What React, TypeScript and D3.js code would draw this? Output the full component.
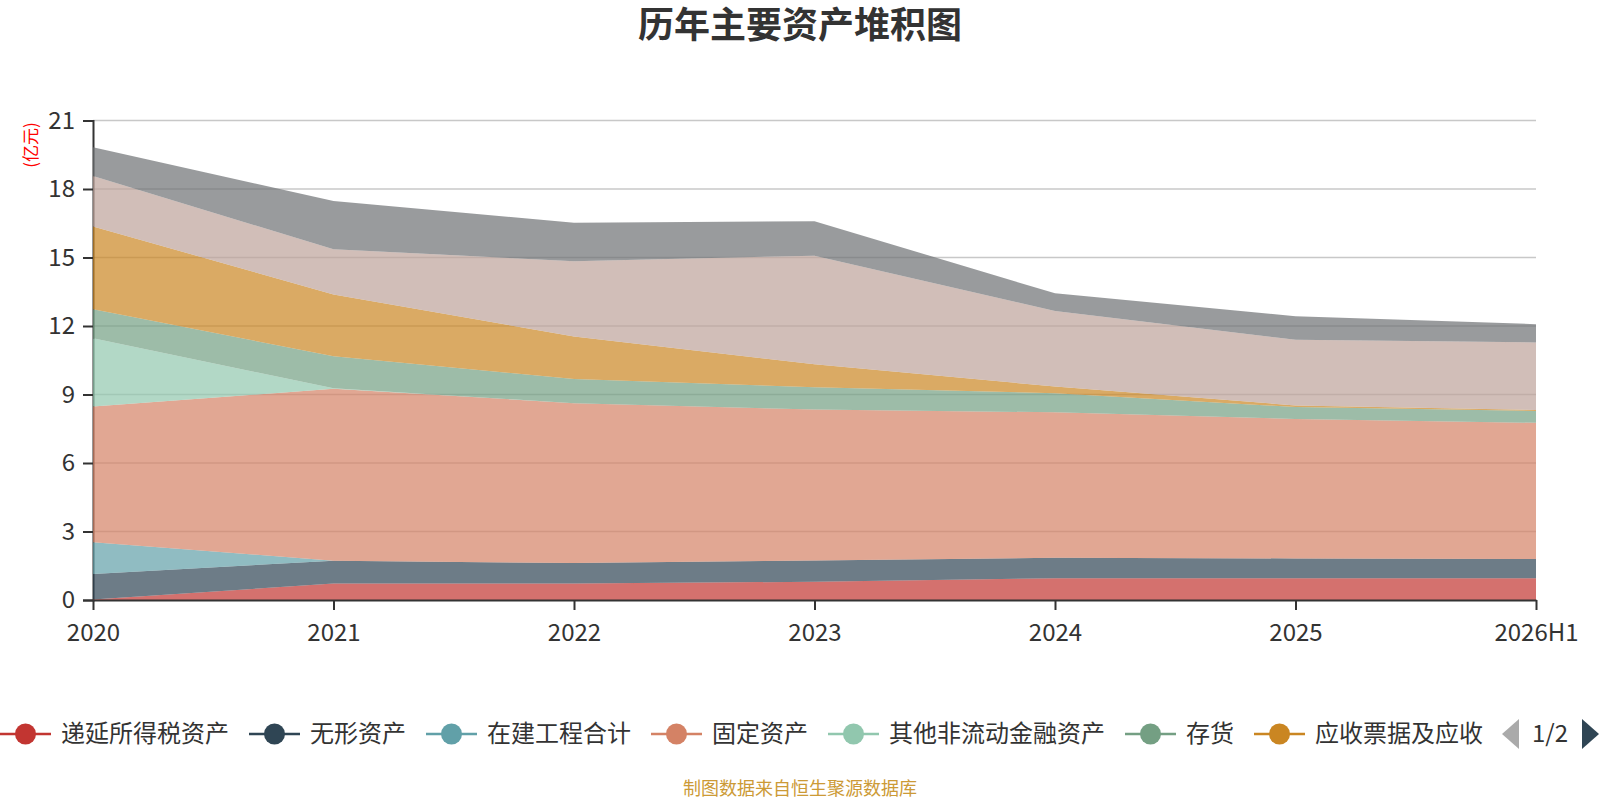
import React, { useEffect, useRef } from "react";
import * as d3 from "d3";

// x-axis categories
const years = ["2020", "2021", "2022", "2023", "2024", "2025", "2026H1"];

// series values (亿元), bottom to top of the stack
const deferredTax = [0.02, 0.72, 0.72, 0.8, 0.95, 0.95, 0.95];
const intangible = [1.12, 1.0, 0.9, 0.93, 0.9, 0.87, 0.85];
const construction = [1.39, 0, 0, 0, 0, 0, 0];
const fixedAssets = [5.94, 7.53, 7.0, 6.61, 6.37, 6.11, 5.96];
const otherFinancial = [2.99, 0.02, 0, 0, 0, 0, 0];
const inventory = [1.27, 1.41, 1.06, 0.98, 0.84, 0.52, 0.52];
const receivables = [3.63, 2.7, 1.86, 1.0, 0.29, 0.07, 0.04];
const cash = [2.21, 1.98, 3.3, 4.76, 3.31, 2.88, 2.96];
const others = [1.26, 2.11, 1.68, 1.51, 0.77, 1.03, 0.8];

const seriesNames = [
  "递延所得税资产",
  "无形资产",
  "在建工程合计",
  "固定资产",
  "其他非流动金融资产",
  "存货",
  "应收票据及应收",
  "货币资金",
  "其他资产",
];
const seriesValues = [
  deferredTax,
  intangible,
  construction,
  fixedAssets,
  otherFinancial,
  inventory,
  receivables,
  cash,
  others,
];
const colors = [
  "#c23531",
  "#2f4554",
  "#61a0a8",
  "#d48265",
  "#91c7ae",
  "#749f83",
  "#ca8622",
  "#bda29a",
  "#6e7074",
];

const yTicks = [0, 3, 6, 9, 12, 15, 18, 21];
const legendCount = 7; // first page of the legend

const FONT = "'Noto Sans CJK SC', 'Noto Sans', sans-serif";

const Chart = ({ width = 1600, height = 800 }) => {
  const svgRef = useRef(null);

  useEffect(() => {
    const svg = d3.select(svgRef.current);
    svg.selectAll("*").remove();

    const margin = { top: 120.5, right: 64, bottom: 200, left: 93 };
    const innerW = width - margin.left - margin.right;
    const innerH = height - margin.top - margin.bottom;

    const x = d3.scalePoint().domain(years).range([0, innerW]);
    const y = d3.scaleLinear().domain([0, 21]).range([innerH, 0]);

    // rows for d3.stack
    const rows = years.map((yr, i) => {
      const r: any = { year: yr };
      seriesNames.forEach((n, k) => (r[n] = seriesValues[k][i]));
      return r;
    });
    const stacked = d3.stack().keys(seriesNames)(rows);

    // title
    svg
      .append("text")
      .attr("x", 800)
      .attr("y", 38)
      .attr("text-anchor", "middle")
      .style("font-family", FONT)
      .style("font-size", "36px")
      .style("font-weight", "bold")
      .style("fill", "#333")
      .text("历年主要资产堆积图");

    // unit label
    svg
      .append("text")
      .attr("transform", "translate(31,145) rotate(-90)")
      .attr("text-anchor", "middle")
      .attr("dy", "0.35em")
      .style("font-family", FONT)
      .style("font-size", "17px")
      .style("fill", "#ff0000")
      .text("(亿元)");

    const g = svg
      .append("g")
      .attr("transform", `translate(${margin.left}, ${margin.top})`);

    // grid lines
    g.append("g")
      .selectAll("line")
      .data(yTicks.filter((t) => t > 0))
      .join("line")
      .attr("x1", 0)
      .attr("x2", innerW)
      .attr("y1", (d) => y(d))
      .attr("y2", (d) => y(d))
      .attr("stroke", "#c8c8c8")
      .attr("stroke-width", 1.5);

    // y axis (drawn below the areas, as in the original)
    const yAxis = g
      .append("g")
      .call(d3.axisLeft(y).tickValues(yTicks).tickSize(10).tickPadding(8));
    yAxis.select(".domain").attr("stroke", "#333").attr("stroke-width", 2);
    yAxis.selectAll(".tick line").attr("stroke", "#333").attr("stroke-width", 2);
    yAxis
      .selectAll(".tick text")
      .style("font-family", FONT)
      .style("font-size", "24px")
      .style("fill", "#333");

    // stacked areas
    const area = d3
      .area<any>()
      .x((d) => x(d.data.year))
      .y0((d) => y(d[0]))
      .y1((d) => y(d[1]));

    g.append("g")
      .selectAll("path")
      .data(stacked)
      .join("path")
      .attr("d", area)
      .attr("fill", (d, i) => colors[i])
      .attr("fill-opacity", 0.7);

    // x axis
    const xAxis = g
      .append("g")
      .attr("transform", `translate(0, ${innerH})`)
      .call(d3.axisBottom(x).tickSize(10).tickPadding(6).tickSizeOuter(0));
    xAxis.select(".domain").attr("stroke", "#333").attr("stroke-width", 2);
    xAxis.selectAll(".tick line").attr("stroke", "#333").attr("stroke-width", 2);
    xAxis
      .selectAll(".tick text")
      .attr("dy", "1.05em")
      .style("font-family", FONT)
      .style("font-size", "24px")
      .style("fill", "#333");

    // legend (first page)
    const legend = svg.append("g").attr("transform", "translate(0, 734)");
    let lx = 0;
    for (let i = 0; i < legendCount; i++) {
      const item = legend.append("g").attr("transform", `translate(${lx}, 0)`);
      item
        .append("line")
        .attr("x1", 0)
        .attr("x2", 51)
        .attr("stroke", colors[i])
        .attr("stroke-width", 2.5);
      item
        .append("circle")
        .attr("cx", 25.5)
        .attr("r", 10.5)
        .attr("fill", colors[i]);
      item
        .append("text")
        .attr("x", 61)
        .attr("dy", "0.35em")
        .style("font-family", FONT)
        .style("font-size", "24px")
        .style("fill", "#333")
        .text(seriesNames[i]);
      lx += 61 + seriesNames[i].length * 24 + 20;
    }

    // legend pager
    legend
      .append("path")
      .attr("d", "M1519,-15 L1502,0 L1519,15 Z")
      .attr("fill", "#aaa");
    legend
      .append("text")
      .attr("x", 1550)
      .attr("dy", "0.35em")
      .attr("text-anchor", "middle")
      .style("font-family", FONT)
      .style("font-size", "24px")
      .style("fill", "#333")
      .text("1/2");
    legend
      .append("path")
      .attr("d", "M1582,-15 L1599,0 L1582,15 Z")
      .attr("fill", "#2f4554");

    // source note
    svg
      .append("text")
      .attr("x", 800)
      .attr("y", 789)
      .attr("dy", "0.35em")
      .attr("text-anchor", "middle")
      .style("font-family", FONT)
      .style("font-size", "18px")
      .style("fill", "#cc9a36")
      .text("制图数据来自恒生聚源数据库");
  }, [width, height]);

  return (
    <svg
      ref={svgRef}
      width={width}
      height={height}
      style={{ position: "absolute", left: 0, top: 0, background: "#fff" }}
    ></svg>
  );
};

export default function App() {
  return <Chart width={1600} height={800} />;
}
